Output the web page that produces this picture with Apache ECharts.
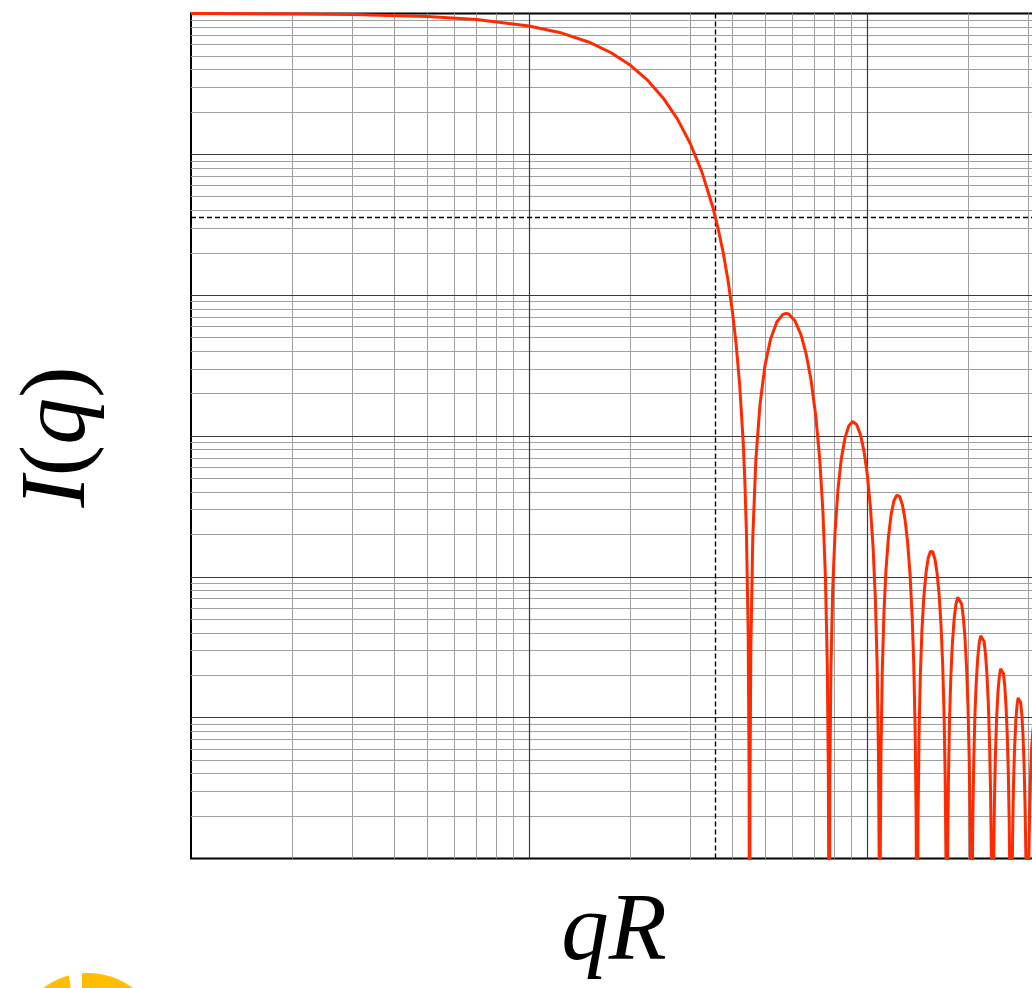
<!DOCTYPE html>
<html>
<head>
<meta charset="utf-8">
<script src="https://cdn.jsdelivr.net/npm/echarts@6/dist/echarts.min.js"></script>
<style>
html,body{margin:0;padding:0;background:#ffffff;}
#chart{width:1032px;height:988px;}
</style>
</head>
<body>
<div id="chart"></div>
<script>
// ---- curve (qR, I(q)); 1e-9 marks the zeros that drop below the axis ----
const curveQR = [
  0.1, 0.2, 0.3, 0.5, 0.7, 1.0, 1.25, 1.5, 1.75, 2.0, 2.25, 2.5, 2.75, 3.0, 3.25, 3.5, 3.625, 3.75, 3.875,
  4.0, 4.1, 4.2, 4.3, 4.35, 4.4, 4.45, 4.48, 4.4934,
  4.5066, 4.5330, 4.5922, 4.6908, 4.8221, 4.9857, 5.1815, 5.4092, 5.6364, 5.7635, 5.8629, 6.1213, 6.3790,
  6.6041, 6.8289, 7.0534, 7.2456, 7.4056, 7.5335, 7.6294, 7.6869, 7.7125, 7.7253,
  7.7636, 7.8211, 7.9168, 8.0445, 8.2039, 8.3952, 8.6181, 8.8409, 9.0636, 9.3179, 9.5720, 9.7943, 10.0164,
  10.2385, 10.4287, 10.5872, 10.7140, 10.8091, 10.8661, 10.9041,
  10.9421, 10.9992, 11.0942, 11.2209, 11.3792, 11.5691, 11.7906, 12.0121, 12.2335, 12.4865, 12.7394, 12.9606,
  13.1818, 13.4030, 13.5925, 13.7504, 13.8767, 13.9715, 14.0283, 14.0662,
  14.1041, 14.1609, 14.2556, 14.3819, 14.5397, 14.7291, 14.9500, 15.1709, 15.3918, 15.6441, 15.8965, 16.1172,
  16.3380, 16.5587, 16.7479, 16.9055, 17.0316, 17.1262, 17.1829, 17.2208,
  17.2586, 17.3153, 17.4099, 17.5360, 17.6935, 17.8826, 18.1032, 18.3238, 18.5444, 18.7964, 19.0484, 19.2689,
  19.4894, 19.7099, 19.8989, 20.0564, 20.1824, 20.2768, 20.3335, 20.3713,
  20.4658, 20.5602, 20.6862, 20.8437, 21.0326, 21.2530, 21.4734, 21.6938, 21.9456, 22.1975, 22.4178, 22.6382,
  22.8585, 23.0473, 23.2047, 23.3306, 23.4250, 23.5195,
  23.6139, 23.7083, 23.8342, 23.9915, 24.1803, 24.4006, 24.6209, 24.8412, 25.0929, 25.3446, 25.5649, 25.7851,
  26.0054, 26.1941, 26.3514, 26.4773, 26.6661,
  26.8548, 26.9807, 27.1379, 27.3267, 27.5469, 27.7671, 27.9873, 28.2389, 28.4906, 28.7108, 28.9309, 29.1511,
  29.3398, 29.4971, 29.6229, 29.8116,
  30.0003, 30.1261, 30.2834, 30.4721, 30.6922, 30.9124, 31.1325, 31.3841, 31.6357, 31.8558
];
const curveI = [
  0.998, 0.99203, 0.98214, 0.95106, 0.90602, 0.81632, 0.72628, 0.62781, 0.52622, 0.42654, 0.33313, 0.24946, 0.17785, 0.11949, 0.074475, 0.04194, 0.029883, 0.020317, 0.012976,
  0.0075834, 0.0044847, 0.0023122, 0.00092783, 0.00048952, 0.00019911, 4.1186e-5, 3.828e-6, 1e-9,
  3.6152e-6, 3.1755e-5, 1.8773e-4, 6.8233e-4, 1.6579e-3, 3.1229e-3, 4.8651e-3, 6.4546e-3, 7.3025e-3, 7.4256e-3, 7.3538e-3, 6.5814e-3, 5.2245e-3,
  3.8422e-3, 2.5096e-3, 1.3934e-3, 6.8586e-4, 2.9095e-4, 9.984e-5, 2.3929e-5, 3.7237e-6, 4.0843e-7, 1e-9,
  3.5777e-6, 2.1651e-5, 8.1727e-5, 2.0839e-4, 4.1557e-4, 6.9031e-4, 9.8167e-4, 1.1845e-3, 1.2664e-3, 1.2077e-3, 1.0168e-3, 7.8454e-4, 5.3611e-4,
  3.1061e-4, 1.5826e-4, 6.9014e-5, 2.4191e-5, 5.889e-6, 9.248e-7, 1e-9,
  8.993e-7, 5.4908e-6, 2.1030e-5, 5.4644e-5, 1.1149e-4, 1.9014e-4, 2.7846e-4, 3.4557e-4, 3.7949e-4, 3.7261e-4, 3.2256e-4, 2.5474e-4,
  1.7800e-4, 1.0535e-4, 5.4637e-5, 2.4168e-5, 8.566e-6, 2.1026e-6, 3.318e-7, 1e-9,
  3.247e-7, 1.9921e-6, 7.689e-6, 2.0186e-5, 4.1702e-5, 7.2163e-5, 1.0745e-4, 1.3547e-4, 1.5108e-4, 1.5087e-4, 1.3275e-4, 1.0629e-4,
  7.5268e-5, 4.5135e-5, 2.3661e-5, 1.0559e-5, 3.7686e-6, 9.297e-7, 1.4715e-7, 1e-9,
  1.4458e-7, 8.896e-7, 3.4510e-6, 9.1181e-6, 1.8987e-5, 3.3164e-5, 4.9900e-5, 6.3568e-5, 7.1603e-5, 7.2305e-5, 6.4309e-5, 5.1969e-5,
  3.7132e-5, 2.2460e-5, 1.1861e-5, 5.3245e-6, 1.9093e-6, 4.727e-7, 7.497e-8, 1e-9,
  4.554e-7, 1.7726e-6, 4.7043e-6, 9.8500e-6, 1.7316e-5, 2.6248e-5, 3.3678e-5, 3.8203e-5, 3.8883e-5, 3.4849e-5, 2.8347e-5, 2.0384e-5,
  1.2407e-5, 6.5868e-6, 2.9697e-6, 1.0685e-6, 2.652e-7, 1e-9,
  2.568e-7, 1.0020e-6, 2.6680e-6, 5.6086e-6, 9.9068e-6, 1.5099e-5, 1.9476e-5, 2.2209e-5, 2.2737e-5, 2.0495e-5, 1.6753e-5, 1.2105e-5,
  7.4030e-6, 3.9459e-6, 1.7844e-6, 6.439e-7, 1e-9,
  6.084e-7, 1.6240e-6, 3.4247e-6, 6.0713e-6, 9.2919e-6, 1.2035e-5, 1.3780e-5, 1.4171e-5, 1.2831e-5, 1.0528e-5, 7.6361e-6, 4.6874e-6,
  2.5063e-6, 1.1366e-6, 4.108e-7, 1e-9,
  3.906e-7, 1.0445e-6, 2.2080e-6, 3.9256e-6, 6.0277e-6, 7.8329e-6, 8.9973e-6, 9.2864e-6, 8.4381e-6, 6.9451e-6
];

// ---- axes ----
const xRange = [0.1, 31.6227766];
const yRange = [1e-6, 1];
const xMajorTicks = [1, 10];
const xMinorTicks = [0.2, 0.3, 0.4, 0.5, 0.6, 0.7, 0.8, 0.9, 2, 3, 4, 5, 6, 7, 8, 9, 20, 30];
const yMajorTicks = [1e-5, 1e-4, 1e-3, 1e-2, 1e-1];
const yMinorTicks = [
  2e-6, 3e-6, 4e-6, 5e-6, 6e-6, 7e-6, 8e-6, 9e-6,
  2e-5, 3e-5, 4e-5, 5e-5, 6e-5, 7e-5, 8e-5, 9e-5,
  2e-4, 3e-4, 4e-4, 5e-4, 6e-4, 7e-4, 8e-4, 9e-4,
  2e-3, 3e-3, 4e-3, 5e-3, 6e-3, 7e-3, 8e-3, 9e-3,
  2e-2, 3e-2, 4e-2, 5e-2, 6e-2, 7e-2, 8e-2, 9e-2,
  0.2, 0.3, 0.4, 0.5, 0.6, 0.7, 0.8, 0.9
];
// dashed guide lines crossing on the curve
const guideQR = [3.56];
const guideI = [0.0356];

const curveData = curveQR.map((q, i) => [q, curveI[i]]);

const chart = echarts.init(document.getElementById('chart'), null, {renderer: 'canvas', width: 1032, height: 988});

const hiddenAxis = {
  axisLine: {show: false}, axisTick: {show: false}, axisLabel: {show: false},
  splitLine: {show: false}, minorTick: {show: false}, minorSplitLine: {show: false}
};

function gridLines(xs, ys, style) {
  return {
    type: 'line', data: [], silent: true, z: style.z,
    markLine: {
      z: style.z,
      silent: true, animation: false, symbol: ['none', 'none'], precision: 12,
      label: {show: false},
      emphasis: {disabled: true},
      lineStyle: {color: style.color, width: style.width, type: style.type},
      data: xs.map(v => ({xAxis: v})).concat(ys.map(v => ({yAxis: v})))
    }
  };
}

chart.setOption({
  animation: false,
  backgroundColor: '#ffffff',
  grid: {
    left: 191, top: 13.5, width: 845, height: 845,
    outerBoundsMode: 'none', containLabel: false,
    show: true, borderColor: '#000000', borderWidth: 2, backgroundColor: 'rgba(0,0,0,0)'
  },
  xAxis: Object.assign({type: 'log', logBase: 10, min: xRange[0], max: xRange[1]}, hiddenAxis),
  yAxis: Object.assign({type: 'log', logBase: 10, min: yRange[0], max: yRange[1]}, hiddenAxis),
  series: [
    gridLines(xMinorTicks, yMinorTicks, {color: '#a0a0a0', width: 1, type: 'solid', z: 1}),
    gridLines(xMajorTicks, yMajorTicks, {color: '#3a3a3a', width: 1.2, type: 'solid', z: 1}),
    gridLines(guideQR, guideI, {color: '#000000', width: 1.4, type: [5, 3], z: 2}),
    {
      type: 'line', data: curveData, showSymbol: false, symbol: 'none', smooth: false,
      clip: true, z: 3, silent: true,
      lineStyle: {color: '#ff2a00', width: 3}
    }
  ],
  graphic: [
    {
      type: 'text', x: 59, y: 437, rotation: Math.PI / 2, silent: true,
      style: {
        text: '{i|I}{n|(}{i|q}{n|)}',
        align: 'center', verticalAlign: 'middle',
        rich: {
          i: {fontFamily: 'Liberation Serif', fontStyle: 'italic', fontSize: 94, fill: '#000'},
          n: {fontFamily: 'Liberation Serif', fontSize: 94, fill: '#000'}
        }
      }
    },
    {
      type: 'text', x: 614, y: 934, silent: true,
      style: {
        text: 'qR', fill: '#000',
        font: 'italic 95px "Liberation Serif"',
        align: 'center', verticalAlign: 'middle'
      }
    },
    {type: 'circle', shape: {cx: 88, cy: 1048, r: 75}, style: {fill: '#ffbf00'}, silent: true},
    {type: 'polygon', shape: {points: [[68, 968], [82, 968], [82, 990], [71, 990]]}, style: {fill: '#ffffff'}, silent: true}
  ]
});
</script>
</body>
</html>
